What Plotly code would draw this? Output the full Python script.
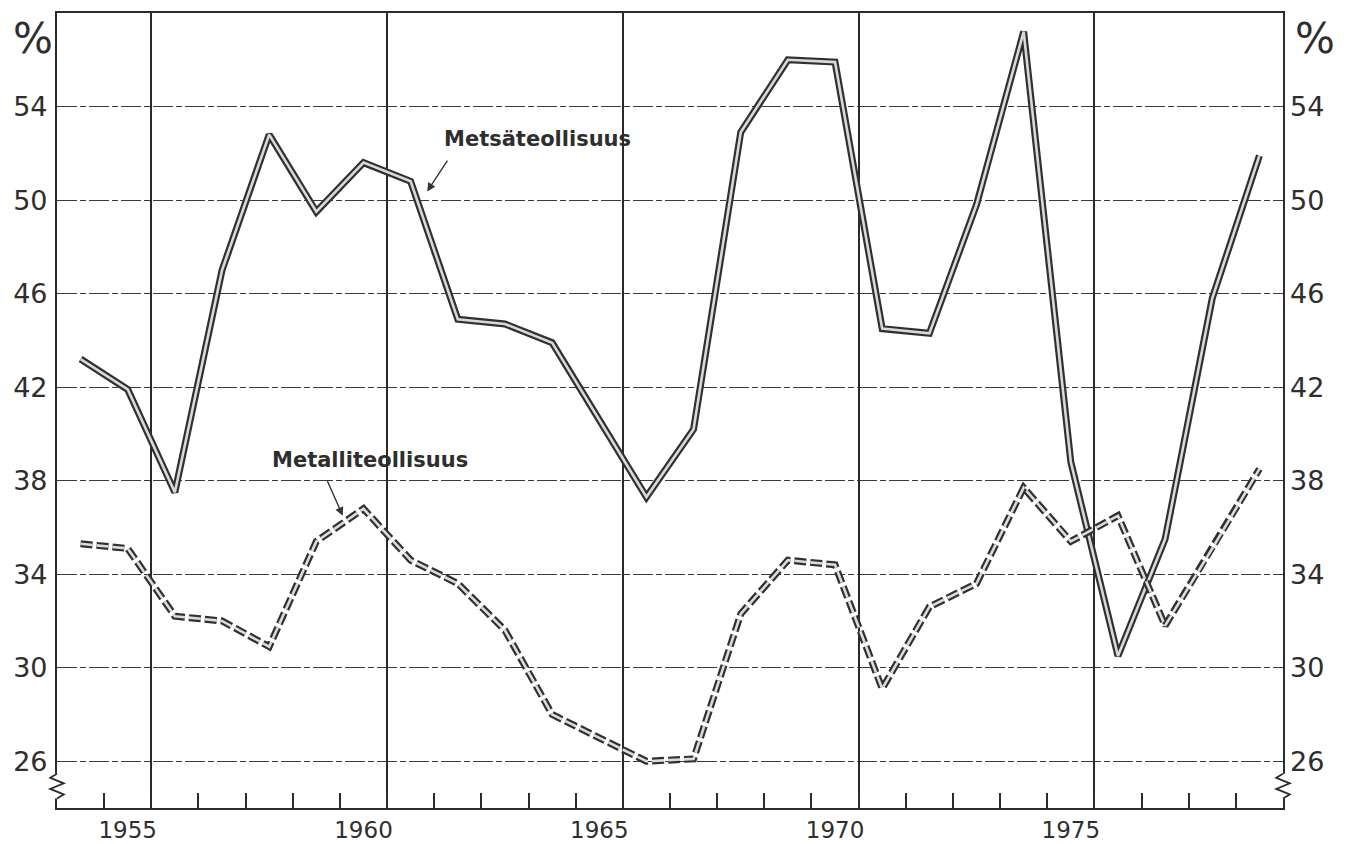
import plotly.graph_objects as go

# ---- data ----
years = [1954, 1955, 1956, 1957, 1958, 1959, 1960, 1961, 1962, 1963, 1964, 1965, 1966,
         1967, 1968, 1969, 1970, 1971, 1972, 1973, 1974, 1975, 1976, 1977, 1978, 1979]
metsateollisuus = [43.2, 41.9, 37.5, 47.0, 52.8, 49.5, 51.6, 50.8, 44.9, 44.7, 43.9, 40.6, 37.3,
                   40.2, 52.9, 56.0, 55.9, 44.5, 44.3, 49.8, 57.2, 38.8, 30.5, 35.5, 45.8, 51.9]
metalliteollisuus = [35.3, 35.1, 32.2, 32.0, 30.9, 35.4, 36.8, 34.6, 33.6, 31.6, 28.0, 27.0, 26.0,
                     26.1, 32.3, 34.6, 34.4, 29.1, 32.6, 33.6, 37.7, 35.4, 36.5, 31.8, 35.1, 38.5]
y_ticks = [26, 30, 34, 38, 42, 46, 50, 54]
x_label_years = [1955, 1960, 1965, 1970, 1975]
x_grid_bounds = [1955.5, 1960.5, 1965.5, 1970.5, 1975.5]
x_minor_bounds = [1954.5 + i for i in range(25)]
x_range = [1953.5, 1979.5]
y_range = [24, 58]

INK = "#2b2b2b"
TXT = "#2e2e2e"

fig = go.Figure()

# Metsäteollisuus: hollow double line
fig.add_trace(go.Scatter(x=years, y=metsateollisuus, mode="lines",
                         line=dict(color="#303030", width=7), hoverinfo="skip", showlegend=False))
fig.add_trace(go.Scatter(x=years, y=metsateollisuus, mode="lines", name="Metsäteollisuus",
                         line=dict(color="#d9d9d9", width=2.6), showlegend=False))
# Metalliteollisuus: hollow dashed double line
fig.add_trace(go.Scatter(x=years, y=metalliteollisuus, mode="lines",
                         line=dict(color="#303030", width=7, dash="12px,4px"),
                         hoverinfo="skip", showlegend=False))
fig.add_trace(go.Scatter(x=years, y=metalliteollisuus, mode="lines", name="Metalliteollisuus",
                         line=dict(color="#dcdcdc", width=2.6, dash="12px,4px"), showlegend=False))

# invisible helpers so overlay axes get drawn
fig.add_trace(go.Scatter(x=years, y=metsateollisuus, xaxis="x2", yaxis="y2", mode="lines",
                         line=dict(width=0), opacity=0, hoverinfo="skip", showlegend=False))
fig.add_trace(go.Scatter(x=years, y=metsateollisuus, xaxis="x3", yaxis="y", mode="lines",
                         line=dict(width=0), opacity=0, hoverinfo="skip", showlegend=False))

font_axis = dict(family="DejaVu Sans", size=27, color=TXT)

# page body adds an 8px margin, so the figure is 8px smaller and shifted accordingly
fig.update_layout(
    width=1338, height=836,
    margin=dict(l=49, r=63, t=5, b=36, autoexpand=False),
    paper_bgcolor="white", plot_bgcolor="white",
    showlegend=False,
    # small boundary ticks on the bottom axis
    xaxis=dict(range=x_range, tickmode="array", tickvals=x_minor_bounds,
               ticks="inside", ticklen=15, tickwidth=1.6, tickcolor=INK,
               showticklabels=False, showgrid=False, zeroline=False, automargin=False,
               showline=True, linecolor=INK, linewidth=2, mirror=True),
    # vertical gridlines
    xaxis2=dict(range=x_range, overlaying="x", anchor="y", tickmode="array",
                tickvals=x_grid_bounds, ticks="", showticklabels=False, automargin=False,
                showgrid=True, gridcolor="#2a2a2a", gridwidth=1.6, zeroline=False,
                showline=False),
    # year labels at the year centres
    xaxis3=dict(range=x_range, overlaying="x", anchor="y", side="bottom", tickmode="array",
                tickvals=x_label_years, ticktext=[str(v) for v in x_label_years],
                ticks="", showgrid=False, zeroline=False, showline=False, automargin=False,
                ticklabelstandoff=6,
                tickfont=dict(family="DejaVu Sans", size=23, color=TXT)),
    yaxis=dict(range=y_range, tickmode="array", tickvals=y_ticks, ticks="",
               showgrid=True, gridcolor="#3a3a3a", gridwidth=1.3, automargin=False,
               griddash="20px,3px,6px,3px", zeroline=False,
               showline=True, linecolor=INK, linewidth=2.2, mirror=True,
               tickfont=font_axis, ticklabelstandoff=2),
    yaxis2=dict(range=y_range, overlaying="y", side="right", anchor="x2", tickmode="array",
                tickvals=y_ticks, ticks="", showgrid=False, zeroline=False, showline=False,
                automargin=False, tickfont=font_axis, ticklabelstandoff=6),
)

ann_font = dict(family="DejaVu Sans", size=21, color=TXT, weight="bold")
fig.add_annotation(x=1963.68, y=52.6, xref="x", yref="y", text="Metsäteollisuus",
                   showarrow=False, font=ann_font)
fig.add_annotation(x=1961.35, y=50.37, ax=1961.8, ay=51.75, xref="x", yref="y",
                   axref="x", ayref="y", text="", showarrow=True, arrowhead=2,
                   arrowsize=1.2, arrowwidth=1.4, arrowcolor="#333")
fig.add_annotation(x=1960.14, y=38.9, xref="x", yref="y", text="Metalliteollisuus",
                   showarrow=False, font=ann_font)
fig.add_annotation(x=1959.56, y=36.5, ax=1959.22, ay=38.05, xref="x", yref="y",
                   axref="x", ayref="y", text="", showarrow=True, arrowhead=2,
                   arrowsize=1.2, arrowwidth=1.4, arrowcolor="#333")

# percent signs above the value scales
pct_font = dict(family="DejaVu Sans", size=42, color=TXT)
fig.add_annotation(x=-0.0195, y=0.968, xref="paper", yref="paper", text="%",
                   xanchor="center", yanchor="middle", showarrow=False, font=pct_font)
fig.add_annotation(x=1.0265, y=0.968, xref="paper", yref="paper", text="%",
                   xanchor="center", yanchor="middle", showarrow=False, font=pct_font)

# axis break marks
def zigzag(xc):
    a = 0.0055
    ys = [0.043, 0.038, 0.031, 0.024, 0.017, 0.012]
    xs = [xc, xc - a, xc + a, xc - a, xc + a, xc]
    path = "M " + " L ".join(f"{x},{y}" for x, y in zip(xs, ys))
    return path

for xc in (0.0, 1.0):
    fig.add_shape(type="line", xref="paper", yref="paper", x0=xc, x1=xc, y0=0.012, y1=0.043,
                  line=dict(color="white", width=5), layer="above")
    fig.add_shape(type="path", xref="paper", yref="paper", path=zigzag(xc),
                  line=dict(color=INK, width=1.8), layer="above")

fig.write_html("out.html")
